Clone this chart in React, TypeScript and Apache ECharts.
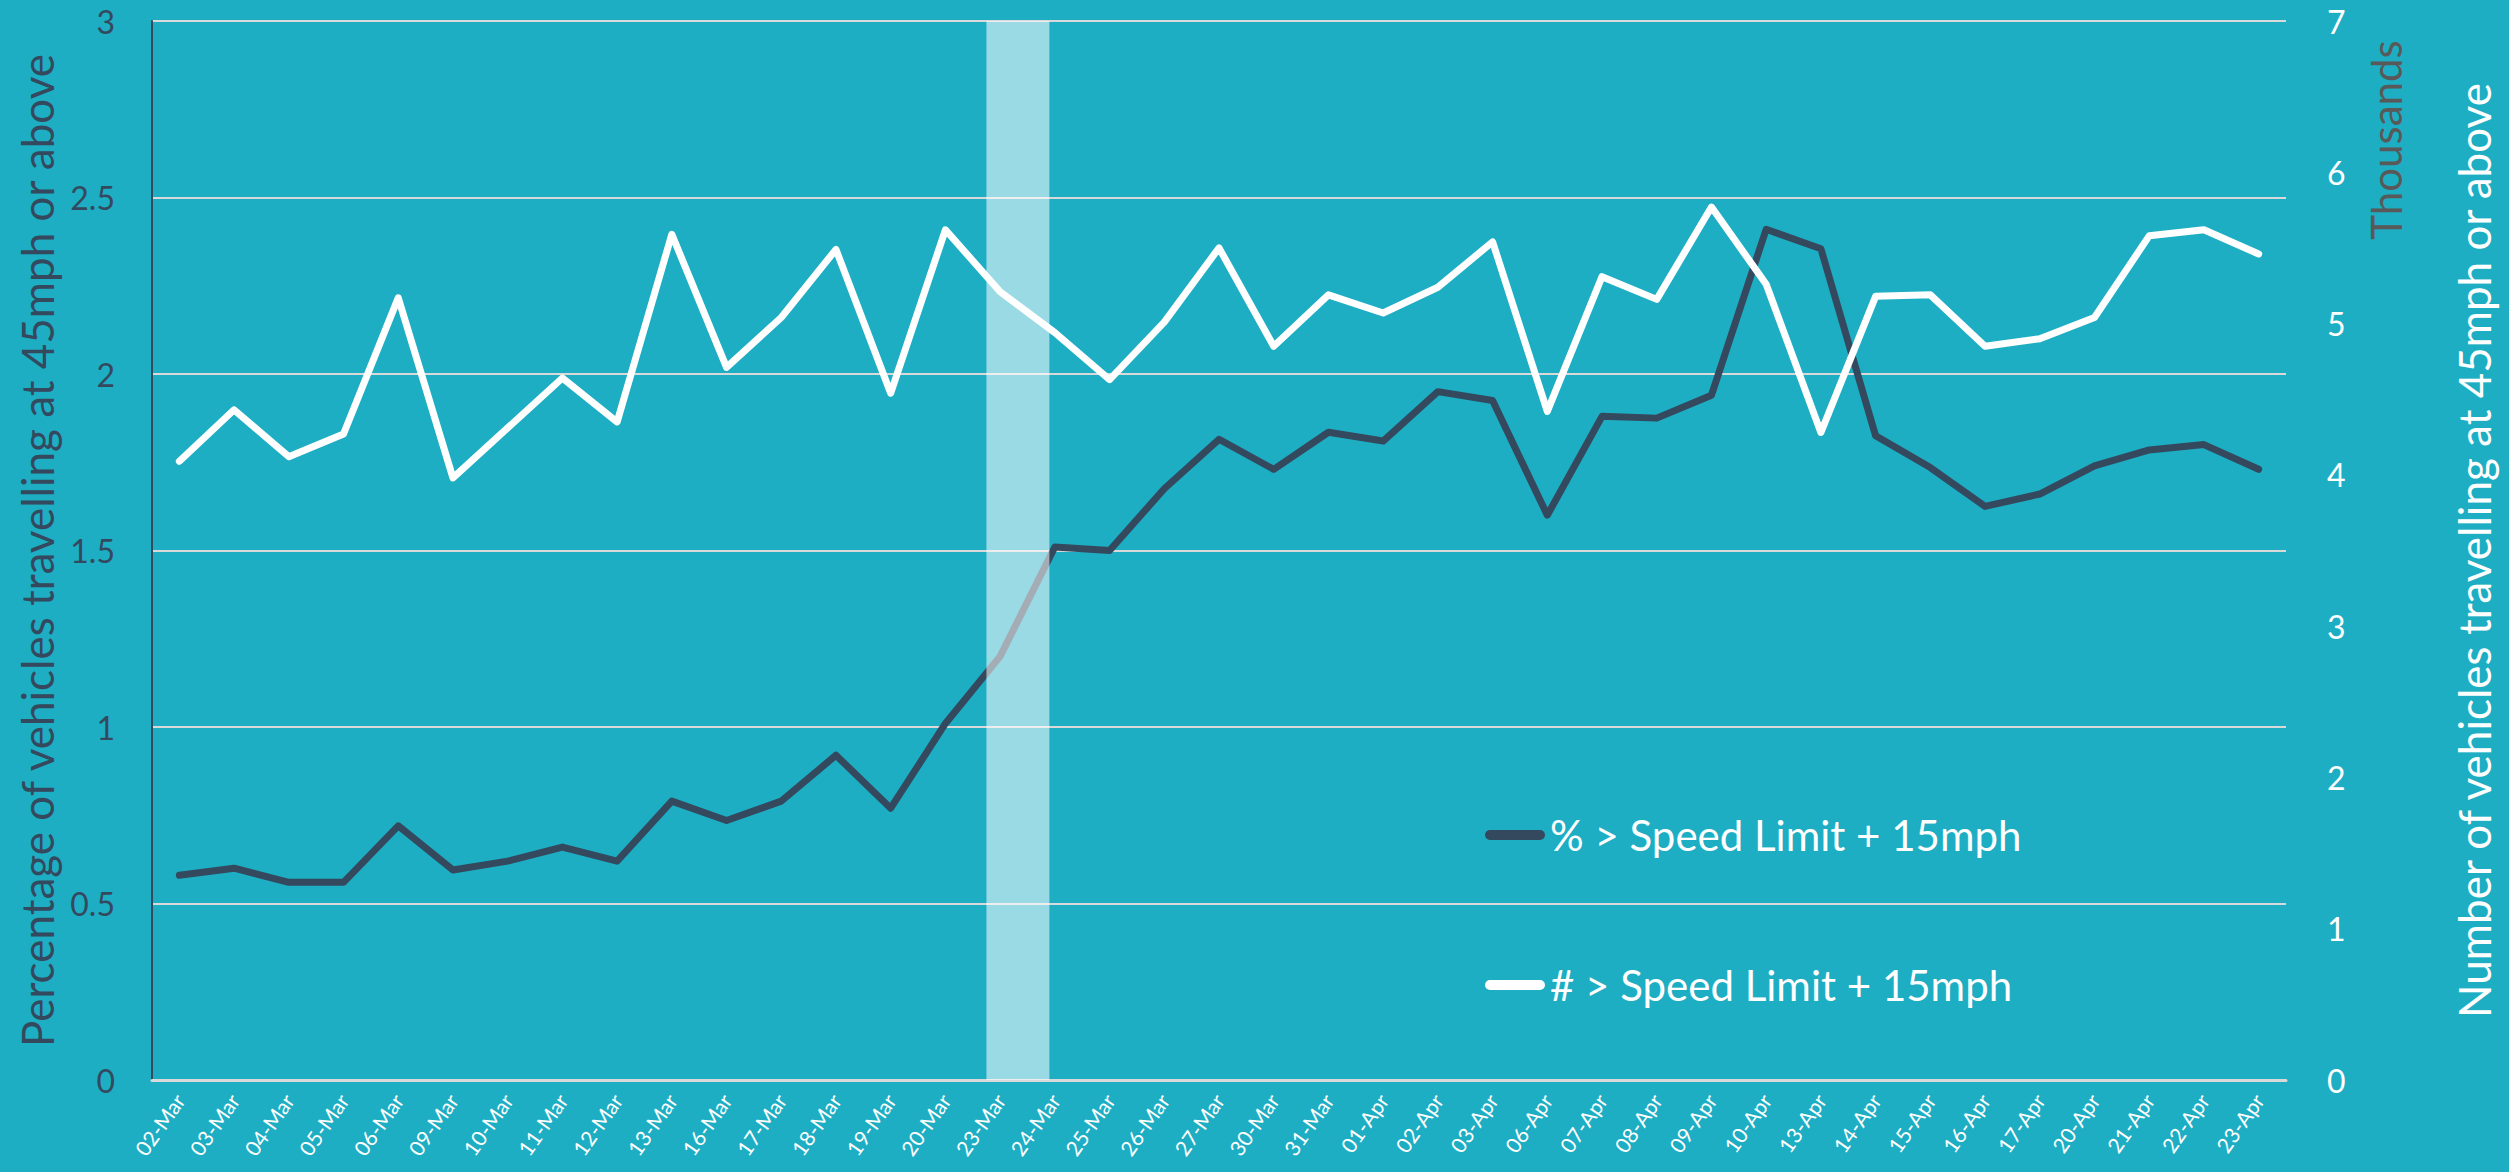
import React, { useEffect, useRef } from "react";
import * as echarts from "echarts";

const categories = [
  "02-Mar", "03-Mar", "04-Mar", "05-Mar", "06-Mar", "09-Mar", "10-Mar", "11-Mar", "12-Mar", "13-Mar",
  "16-Mar", "17-Mar", "18-Mar", "19-Mar", "20-Mar", "23-Mar", "24-Mar", "25-Mar", "26-Mar", "27-Mar",
  "30-Mar", "31-Mar", "01-Apr", "02-Apr", "03-Apr", "06-Apr", "07-Apr", "08-Apr", "09-Apr", "10-Apr",
  "13-Apr", "14-Apr", "15-Apr", "16-Apr", "17-Apr", "20-Apr", "21-Apr", "22-Apr", "23-Apr",
];

const pctValues = [
  0.58, 0.6, 0.56, 0.56, 0.72, 0.595, 0.62, 0.66, 0.62, 0.79,
  0.735, 0.79, 0.92, 0.77, 1.01, 1.2, 1.51, 1.5, 1.675, 1.815,
  1.73, 1.835, 1.81, 1.95, 1.925, 1.6, 1.88, 1.875, 1.94, 2.41,
  2.355, 1.825, 1.735, 1.625, 1.66, 1.74, 1.785, 1.8, 1.73,
];

const countValues = [
  4090, 4430, 4120, 4270, 5170, 3980, 4310, 4640, 4350, 5590,
  4710, 5040, 5490, 4540, 5620, 5210, 4940, 4630, 5010, 5500,
  4850, 5190, 5070, 5240, 5540, 4420, 5310, 5160, 5770, 5260,
  4280, 5180, 5190, 4850, 4900, 5040, 5580, 5620, 5460,
];

const seriesNames = ["% > Speed Limit + 15mph", "# > Speed Limit + 15mph"];
const highlightRange = [15.25, 16.4]; // in category-band units

const DARK = "#35495E";
const BG = "#1DAEC4";
const FONT = "Lato";
const PILL = "path://M5,0 L55,0 A5,5 0 0 1 55,10 L5,10 A5,5 0 0 1 5,0 Z";

export default function App() {
  const ref = useRef<HTMLDivElement>(null);
  useEffect(() => {
    document.body.style.margin = "0";
    const chart = echarts.init(ref.current!, null, { renderer: "svg" });
    chart.setOption({
      animation: false,
      backgroundColor: BG,
      textStyle: { fontFamily: FONT },
      grid: { left: 152, right: 223, top: 21, bottom: 92, containLabel: false },
      legend: {
        orient: "vertical",
        left: 1480,
        top: 805,
        itemWidth: 60,
        itemHeight: 10,
        itemGap: 100,
        textStyle: { color: "#fff", fontSize: 42, lineHeight: 50, fontFamily: FONT },
        data: [
          { name: seriesNames[0], icon: PILL },
          { name: seriesNames[1], icon: PILL },
        ],
      },
      xAxis: [
        {
          type: "category",
          data: categories,
          boundaryGap: true,
          axisLine: { lineStyle: { color: "#D9D9D9", width: 3 } },
          axisTick: { show: false },
          axisLabel: { interval: 0, rotate: 55, color: "#fff", fontSize: 21, margin: 16, fontFamily: FONT },
        },
        { type: "value", min: 0, max: categories.length, show: false },
      ],
      yAxis: [
        {
          type: "value",
          min: 0,
          max: 3,
          interval: 0.5,
          axisLine: { show: true, lineStyle: { color: DARK, width: 2 } },
          axisTick: { show: false },
          axisLabel: { color: DARK, fontSize: 32, margin: 37, fontFamily: FONT },
          splitLine: { lineStyle: { color: "#D9D9D9", width: 2 } },
          name: "Percentage of vehicles travelling at 45mph or above",
          nameLocation: "middle",
          nameGap: 92,
          nameRotate: 90,
          nameTextStyle: { color: DARK, fontSize: 44, fontFamily: FONT },
        },
        {
          type: "value",
          min: 0,
          max: 7000,
          interval: 1000,
          position: "right",
          axisLine: { show: false },
          axisTick: { show: false },
          splitLine: { show: false },
          axisLabel: {
            color: "#fff",
            fontSize: 32,
            margin: 41,
            fontFamily: FONT,
            formatter: (v: number) => String(v / 1000),
          },
          name: "Number of vehicles travelling at 45mph or above",
          nameLocation: "middle",
          nameGap: 166,
          nameRotate: 90,
          nameTextStyle: { color: "#fff", fontSize: 44, fontFamily: FONT },
        },
      ],
      graphic: [
        {
          type: "text",
          x: 2386,
          y: 140,
          rotation: Math.PI / 2,
          style: {
            text: "Thousands",
            fill: "#595959",
            fontSize: 42,
            fontFamily: FONT,
            textAlign: "center",
            textVerticalAlign: "middle",
          },
        },
      ],
      series: [
        {
          name: seriesNames[0],
          type: "line",
          xAxisIndex: 0,
          yAxisIndex: 0,
          data: pctValues,
          symbol: "none",
          z: 2,
          itemStyle: { color: DARK },
          lineStyle: { color: DARK, width: 7, cap: "round", join: "round" },
        },
        {
          name: "highlight",
          type: "line",
          xAxisIndex: 1,
          yAxisIndex: 0,
          data: [],
          symbol: "none",
          markArea: {
            silent: true,
            z: 3,
            itemStyle: { color: "rgba(255,255,255,0.55)" },
            data: [[{ xAxis: highlightRange[0], yAxis: 0 }, { xAxis: highlightRange[1], yAxis: 3 }]],
          },
        },
        {
          name: seriesNames[1],
          type: "line",
          xAxisIndex: 0,
          yAxisIndex: 1,
          data: countValues,
          symbol: "none",
          z: 4,
          itemStyle: { color: "#fff" },
          lineStyle: { color: "#fff", width: 7, cap: "round", join: "round" },
        },
      ],
    });
    return () => chart.dispose();
  }, []);
  return <div ref={ref} style={{ width: 2509, height: 1172 }} />;
}
